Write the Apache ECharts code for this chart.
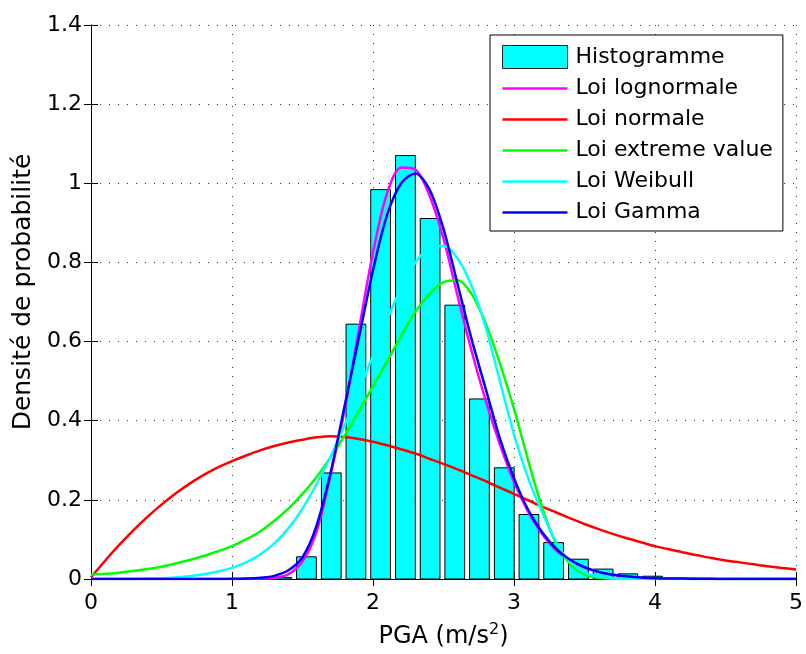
<!DOCTYPE html>
<html><head><meta charset="utf-8">
<script src="https://cdn.jsdelivr.net/npm/echarts@6/dist/echarts.min.js"></script>
<style>html,body{margin:0;padding:0;background:#fff}#c{width:806px;height:654px}</style>
</head><body><div id="c"></div>
<script>
// Histogram bins (centres) and densities
const binCenters = [1.353, 1.528, 1.704, 1.879, 2.054, 2.230, 2.405, 2.580, 2.755, 2.931, 3.106, 3.281, 3.457, 3.632, 3.807, 3.983];
const binHeights = [0.004, 0.056, 0.268, 0.644, 0.984, 1.070, 0.911, 0.692, 0.455, 0.281, 0.163, 0.092, 0.050, 0.025, 0.013, 0.007];

// Sample abscissas for the fitted density curves (0 to 5, step 0.1)
const xGrid = [0, 0.1, 0.2, 0.3, 0.4, 0.5, 0.6, 0.7, 0.8, 0.9,
  1.0, 1.1, 1.2, 1.3, 1.4, 1.5, 1.6, 1.7, 1.8, 1.9,
  2.0, 2.1, 2.2, 2.3, 2.4, 2.5, 2.6, 2.7, 2.8, 2.9,
  3.0, 3.1, 3.2, 3.3, 3.4, 3.5, 3.6, 3.7, 3.8, 3.9,
  4.0, 4.1, 4.2, 4.3, 4.4, 4.5, 4.6, 4.7, 4.8, 4.9, 5.0];

const lognormalPdf = [0, 0, 0, 0, 0, 0, 0, 0, 0, 0,
  0, 0, 0.001, 0.003, 0.012, 0.045, 0.12, 0.265, 0.43, 0.63,
  0.825, 0.975, 1.04, 1.035, 0.97, 0.86, 0.715, 0.575, 0.45, 0.34,
  0.245, 0.17, 0.113, 0.072, 0.046, 0.029, 0.018, 0.011, 0.006, 0.003,
  0.002, 0.001, 0.0006, 0.0003, 0, 0, 0, 0, 0, 0, 0];
const normalPdf = [0.004, 0.046, 0.086, 0.123, 0.157, 0.188, 0.216, 0.241, 0.263, 0.282,
  0.298, 0.312, 0.325, 0.336, 0.345, 0.352, 0.358, 0.361, 0.359, 0.354,
  0.347, 0.338, 0.328, 0.317, 0.304, 0.291, 0.277, 0.262, 0.247, 0.231,
  0.215, 0.199, 0.183, 0.168, 0.153, 0.139, 0.126, 0.114, 0.103, 0.093,
  0.083, 0.075, 0.067, 0.06, 0.053, 0.047, 0.042, 0.037, 0.032, 0.028, 0.024];
const extremePdf = [0.011, 0.013, 0.016, 0.02, 0.025, 0.031, 0.039, 0.048, 0.058, 0.07,
  0.083, 0.10, 0.12, 0.147, 0.178, 0.215, 0.258, 0.308, 0.363, 0.425,
  0.487, 0.55, 0.615, 0.675, 0.72, 0.75, 0.755, 0.72, 0.645, 0.545,
  0.43, 0.30, 0.18, 0.088, 0.037, 0.012, 0.003, 0.0005, 0, 0,
  0, 0, 0, 0, 0, 0, 0, 0, 0, 0, 0];
const weibullPdf = [0, 0, 0, 0, 0.001, 0.002, 0.004, 0.007, 0.012, 0.019,
  0.028, 0.042, 0.062, 0.09, 0.128, 0.178, 0.24, 0.31, 0.39, 0.475,
  0.565, 0.655, 0.735, 0.80, 0.835, 0.842, 0.81, 0.74, 0.635, 0.50,
  0.365, 0.255, 0.168, 0.092, 0.043, 0.017, 0.006, 0.002, 0.0005, 0,
  0, 0, 0, 0, 0, 0, 0, 0, 0, 0, 0];
const gammaPdf = [0, 0, 0, 0, 0, 0, 0, 0, 0, 0,
  0.0005, 0.001, 0.003, 0.008, 0.022, 0.055, 0.135, 0.27, 0.44, 0.61,
  0.78, 0.92, 1.0, 1.025, 0.985, 0.885, 0.745, 0.605, 0.48, 0.355,
  0.255, 0.175, 0.118, 0.076, 0.048, 0.03, 0.018, 0.011, 0.007, 0.004,
  0.002, 0.0014, 0.001, 0.0006, 0.0004, 0.0002, 0, 0, 0, 0, 0];

const xTicks = [0, 1, 2, 3, 4, 5];
const yTicks = [0, 0.2, 0.4, 0.6, 0.8, 1.0, 1.2, 1.4];

const binWidth = 0.14;
const FONT = 'DejaVu Sans';
// legend line glyph: a 2.5px bar centred in a 65x23 box
const LINE_ICON = 'path://M0,0 M0,10.25 L65,10.25 L65,12.75 L0,12.75 Z M65,23';

const chart = echarts.init(document.getElementById('c'));
const pts = arr => xGrid.map((x, i) => [x, arr[i]]);
const lineSeries = (name, arr, color) => ({
  name, type: 'line', data: pts(arr), symbol: 'none', smooth: 0.3, z: 3,
  lineStyle: {color, width: 2.5}, itemStyle: {color}
});

const axisCommon = {
  axisLine: {show: true, lineStyle: {color: '#000', width: 1}},
  axisTick: {show: true, inside: true, length: 7, lineStyle: {color: '#000'}},
};

chart.setOption({
  animation: false,
  backgroundColor: '#fff',
  grid: {left: 91, right: 10, top: 25, bottom: 75, show: false},
  legend: {
    orient: 'vertical', left: 490, top: 35,
    itemWidth: 65, itemHeight: 23, itemGap: 8,
    symbolKeepAspect: false,
    padding: [10, 10, 7, 12],
    borderColor: '#000', borderWidth: 1, backgroundColor: '#fff',
    textStyle: {fontFamily: FONT, fontSize: 22, color: '#000', padding: [0, 0, 0, 3]},
    data: [
      {name: 'Histogramme', icon: 'rect', itemStyle: {borderColor: '#222', borderWidth: 1}},
      {name: 'Loi lognormale', icon: LINE_ICON},
      {name: 'Loi normale', icon: LINE_ICON},
      {name: 'Loi extreme value', icon: LINE_ICON},
      {name: 'Loi Weibull', icon: LINE_ICON},
      {name: 'Loi Gamma', icon: LINE_ICON}
    ]
  },
  xAxis: [{
    type: 'value', min: xTicks[0], max: xTicks[xTicks.length - 1], interval: 1, position: 'bottom',
    ...axisCommon,
    axisLabel: {color: '#000', fontFamily: FONT, fontSize: 22, margin: 13},
    splitLine: {show: true, lineStyle: {color: '#333', type: [1, 8], width: 1}},
    name: '{a|PGA (m/s}{s|2}{a|)}', nameLocation: 'middle', nameGap: 43,
    nameTextStyle: {rich: {
      a: {fontFamily: FONT, fontSize: 24, color: '#000'},
      s: {fontFamily: FONT, fontSize: 16, color: '#000', padding: [0, 0, 14, 0]}
    }}
  }, {
    type: 'value', min: xTicks[0], max: xTicks[xTicks.length - 1], interval: 1, position: 'top',
    ...axisCommon, axisLabel: {show: false}, splitLine: {show: false}
  }],
  yAxis: [{
    type: 'value', min: yTicks[0], max: yTicks[yTicks.length - 1], interval: 0.2, position: 'left',
    ...axisCommon,
    axisLabel: {color: '#000', fontFamily: FONT, fontSize: 22, margin: 9,
      formatter: v => String(Math.round(v * 10) / 10)},
    splitLine: {show: true, lineStyle: {color: '#333', type: [1, 8], width: 1}},
    name: 'Densité de probabilité', nameLocation: 'middle', nameGap: 52, nameRotate: 90,
    nameTextStyle: {fontFamily: FONT, fontSize: 25, color: '#000', padding: [0, 0, 0, 20]}
  }, {
    type: 'value', min: yTicks[0], max: yTicks[yTicks.length - 1], interval: 0.2, position: 'right',
    ...axisCommon, axisLabel: {show: false}, splitLine: {show: false}
  }],
  series: [
    {
      name: 'Histogramme', type: 'custom', z: 2,
      itemStyle: {color: '#00ffff', borderColor: '#000', borderWidth: 1},
      encode: {x: 0, y: 1},
      data: binCenters.map((c, i) => [c, binHeights[i]]),
      renderItem: (params, api) => {
        const x = api.value(0), h = api.value(1);
        const p0 = api.coord([x - binWidth / 2, h]);
        const p1 = api.coord([x + binWidth / 2, 0]);
        return {type: 'rect',
          shape: {x: p0[0], y: p0[1], width: p1[0] - p0[0], height: p1[1] - p0[1]},
          style: {fill: '#00ffff', stroke: '#000', lineWidth: 1}};
      }
    },
    lineSeries('Loi lognormale', lognormalPdf, '#ff00ff'),
    lineSeries('Loi normale', normalPdf, '#ff0000'),
    lineSeries('Loi extreme value', extremePdf, '#00ff00'),
    lineSeries('Loi Weibull', weibullPdf, '#00ffff'),
    lineSeries('Loi Gamma', gammaPdf, '#0000ff')
  ]
});
</script></body></html>
